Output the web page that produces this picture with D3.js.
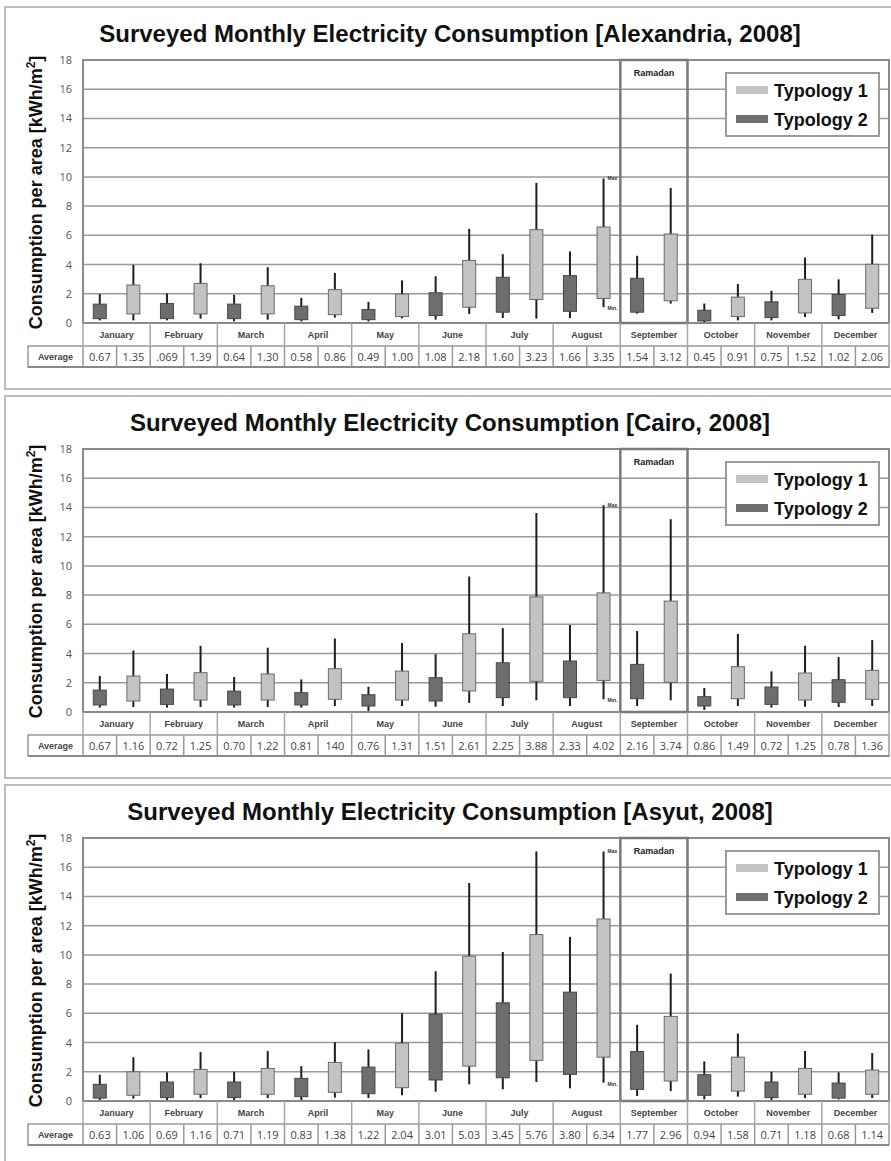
<!DOCTYPE html>
<html><head><meta charset="utf-8">
<script src="https://cdn.jsdelivr.net/npm/d3@7"></script>
<style>body{margin:0;background:#fff}svg{display:block}</style>
</head><body>
<script>
const months = ["January","February","March","April","May","June","July","August","September","October","November","December"];
const yTicks = [0,2,4,6,8,10,12,14,16,18];
const typologies = ["Typology 1","Typology 2"];
const cities = ["Alexandria","Cairo","Asyut"];
// [min, box low, box high, max]
const alexT2 = [[0.18,0.30,1.29,1.98],[0.18,0.30,1.33,2.02],[0.11,0.30,1.29,1.93],[0.11,0.23,1.15,1.72],[0.11,0.23,0.92,1.45],[0.23,0.51,2.07,3.20],[0.34,0.74,3.13,4.71],[0.34,0.80,3.24,4.90],[0.64,0.74,3.06,4.60],[0.05,0.14,0.87,1.33],[0.18,0.37,1.45,2.21],[0.25,0.51,1.95,2.99]];
const alexT1 = [[0.18,0.62,2.60,3.98],[0.30,0.62,2.71,4.09],[0.23,0.62,2.55,3.82],[0.37,0.57,2.28,3.43],[0.32,0.44,1.98,2.92],[0.62,1.08,4.28,6.44],[0.30,1.61,6.39,9.59],[1.08,1.68,6.57,9.89],[1.33,1.52,6.09,9.24],[0.18,0.44,1.77,2.67],[0.41,0.69,2.99,4.48],[0.69,1.01,4.02,6.05]];
const cairoT2 = [[0.30,0.48,1.50,2.46],[0.30,0.52,1.57,2.60],[0.30,0.48,1.43,2.39],[0.30,0.48,1.32,2.23],[0.07,0.41,1.18,1.73],[0.36,0.75,2.35,3.96],[0.41,0.98,3.37,5.74],[0.41,0.98,3.49,5.95],[0.41,0.91,3.26,5.54],[0.14,0.41,1.05,1.64],[0.30,0.52,1.71,2.78],[0.34,0.66,2.21,3.76]];
const cairoT1 = [[0.34,0.75,2.46,4.21],[0.34,0.82,2.69,4.53],[0.34,0.82,2.60,4.40],[0.41,0.87,2.96,5.03],[0.41,0.82,2.80,4.72],[0.62,1.44,5.35,9.27],[0.80,2.10,7.88,13.62],[0.87,2.16,8.15,14.15],[0.80,2.03,7.59,13.19],[0.41,0.91,3.10,5.35],[0.36,0.82,2.67,4.53],[0.41,0.87,2.85,4.92]];
const asyutT2 = [[0.07,0.20,1.14,1.80],[0.07,0.23,1.30,1.96],[0.07,0.23,1.30,2.00],[0.07,0.30,1.55,2.39],[0.20,0.50,2.32,3.53],[0.64,1.44,5.95,8.88],[0.80,1.59,6.72,10.20],[0.87,1.82,7.45,11.23],[0.34,0.80,3.39,5.22],[0.11,0.39,1.80,2.71],[0.07,0.23,1.30,2.00],[0.11,0.20,1.23,1.96]];
const asyutT1 = [[0.16,0.39,2.00,3.00],[0.20,0.46,2.16,3.35],[0.20,0.46,2.23,3.42],[0.23,0.59,2.64,4.03],[0.39,0.91,3.96,6.01],[1.14,2.39,9.91,14.92],[1.30,2.78,11.39,17.08],[1.25,3.00,12.46,17.08],[0.68,1.37,5.79,8.72],[0.30,0.68,3.00,4.62],[0.20,0.46,2.23,3.42],[0.20,0.46,2.12,3.28]];
const alexAvgT2 = ["0.67",".069","0.64","0.58","0.49","1.08","1.60","1.66","1.54","0.45","0.75","1.02"];
const alexAvgT1 = ["1.35","1.39","1.30","0.86","1.00","2.18","3.23","3.35","3.12","0.91","1.52","2.06"];
const cairoAvgT2 = ["0.67","0.72","0.70","0.81","0.76","1.51","2.25","2.33","2.16","0.86","0.72","0.78"];
const cairoAvgT1 = ["1.16","1.25","1.22","140","1.31","2.61","3.88","4.02","3.74","1.49","1.25","1.36"];
const asyutAvgT2 = ["0.63","0.69","0.71","0.83","1.22","3.01","3.45","3.80","1.77","0.94","0.71","0.68"];
const asyutAvgT1 = ["1.06","1.16","1.19","1.38","2.04","5.03","5.76","6.34","2.96","1.58","1.18","1.14"];

const panels = [
  {city: cities[0], t1: alexT1, t2: alexT2, a1: alexAvgT1, a2: alexAvgT2},
  {city: cities[1], t1: cairoT1, t2: cairoT2, a1: cairoAvgT1, a2: cairoAvgT2},
  {city: cities[2], t1: asyutT1, t2: asyutT2, a1: asyutAvgT1, a2: asyutAvgT2}
];

const W = 891, H = 1161;
const svg = d3.select("body").append("svg").attr("width", W).attr("height", H);
const panelTops = [7, 396, 785];
const PL = 83, PR = 889, PH = 263;
const FONT = "'Liberation Sans', Arial, sans-serif";
const NUMFONT = "'Open Sans', 'Liberation Sans', sans-serif";
const DARK = "#6e6e6e", LIGHT = "#c3c3c3";

const x = d3.scaleBand().domain(months).range([PL, PR]).padding(0);
const sub = d3.scalePoint().domain(["T2","T1"]).range([0, x.bandwidth()]).padding(0.5);
const BW = 13;

panels.forEach((p, i) => {
  const top = panelTops[i];
  const g = svg.append("g");
  const pTop = top + 53, pBot = pTop + PH;
  const y = d3.scaleLinear().domain([0, 18]).range([pBot, pTop]);

  g.append("rect").attr("x", 5).attr("y", top).attr("width", 900).attr("height", 382)
    .attr("fill", "none").attr("stroke", "#bdbdbd").attr("stroke-width", 2);

  g.append("text").attr("x", 450).attr("y", top + 35).attr("text-anchor", "middle")
    .attr("font-family", FONT).attr("font-weight", "bold").attr("font-size", 24).attr("fill", "#111")
    .text(`Surveyed Monthly Electricity Consumption [${p.city}, 2008]`);

  const yl = g.append("text").attr("transform", `translate(42,${(pTop + pBot) / 2 + 1}) rotate(-90)`)
    .attr("text-anchor", "middle").attr("font-family", FONT).attr("font-weight", "bold")
    .attr("font-size", 18).attr("fill", "#111");
  yl.append("tspan").text("Consumption per area [kWh/m");
  yl.append("tspan").attr("dy", -7).attr("font-size", 12).text("2");
  yl.append("tspan").attr("dy", 7).text("]");

  g.append("g").selectAll("line").data(yTicks.slice(1, -1)).join("line")
    .attr("x1", PL).attr("x2", PR).attr("y1", d => y(d)).attr("y2", d => y(d))
    .attr("stroke", "#9a9a9a").attr("stroke-width", 1.5);

  const ax = g.append("g").attr("transform", `translate(${PL - 11},0)`)
    .call(d3.axisLeft(y).tickValues(yTicks).tickSize(0).tickPadding(0));
  ax.select(".domain").remove();
  ax.selectAll("text").attr("font-family", NUMFONT).attr("font-size", 11).attr("fill", "#555");

  g.append("rect").attr("x", PL).attr("y", pTop).attr("width", PR - PL).attr("height", PH)
    .attr("fill", "none").attr("stroke", "#8a8a8a").attr("stroke-width", 2);

  g.append("rect").attr("x", x("September")).attr("y", pTop).attr("width", x.bandwidth()).attr("height", PH)
    .attr("fill", "none").attr("stroke", "#7a7a7a").attr("stroke-width", 2.5);
  g.append("text").attr("x", x("September") + x.bandwidth() / 2).attr("y", pTop + 15.5)
    .attr("text-anchor", "middle").attr("font-family", FONT).attr("font-weight", "bold")
    .attr("font-size", 9).attr("fill", "#222").text("Ramadan");

  const lg = g.append("g");
  lg.append("rect").attr("x", 726).attr("y", pTop + 13).attr("width", 153).attr("height", 63)
    .attr("fill", "#fff").attr("stroke", "#9a9a9a").attr("stroke-width", 2);
  const legCol = [LIGHT, DARK];
  typologies.forEach((t, k) => {
    lg.append("rect").attr("x", 736).attr("y", pTop + 26 + k * 29).attr("width", 32).attr("height", 8)
      .attr("fill", legCol[k]);
    lg.append("text").attr("x", 774).attr("y", pTop + 37 + k * 28.5).attr("font-family", FONT)
      .attr("font-weight", "bold").attr("font-size", 18).attr("fill", "#111").text(t);
  });

  const series = [{key: "T2", data: p.t2, fill: DARK, stroke: "#474747"}, {key: "T1", data: p.t1, fill: LIGHT, stroke: "#6a6a6a"}];
  series.forEach(s => {
    const sg = g.append("g");
    const cx = (d, j) => x(months[j]) + sub(s.key);
    sg.selectAll("line").data(s.data).join("line")
      .attr("x1", cx).attr("x2", cx).attr("y1", d => y(d[0])).attr("y2", d => y(d[3]))
      .attr("stroke", "#1e1e1e").attr("stroke-width", 2);
    sg.selectAll("rect").data(s.data).join("rect")
      .attr("x", (d, j) => cx(d, j) - BW / 2).attr("width", BW)
      .attr("y", d => y(d[2])).attr("height", d => y(d[1]) - y(d[2]))
      .attr("fill", s.fill).attr("stroke", s.stroke).attr("stroke-width", 1);
  });

  const aug = p.t1[7];
  const axX = x("August") + sub("T1") + 4;
  g.append("text").attr("x", axX).attr("y", y(aug[3]) + 2).attr("font-family", FONT).attr("font-weight", "bold")
    .attr("font-size", 5).attr("fill", "#333").text("Max");
  g.append("text").attr("x", axX).attr("y", y(aug[0]) + 3).attr("font-family", FONT).attr("font-weight", "bold")
    .attr("font-size", 5).attr("fill", "#333").text("Min.");

  const mr = g.append("g");
  mr.selectAll("line").data(months.concat(["_end"])).join("line")
    .attr("x1", (d, j) => j < 12 ? x(d) : PR).attr("x2", (d, j) => j < 12 ? x(d) : PR)
    .attr("y1", pBot).attr("y2", pBot + 22).attr("stroke", "#a8a8a8").attr("stroke-width", 1.5);
  mr.selectAll("text").data(months).join("text")
    .attr("x", d => x(d) + x.bandwidth() / 2).attr("y", pBot + 15).attr("text-anchor", "middle")
    .attr("font-family", FONT).attr("font-weight", "bold").attr("font-size", 9).attr("fill", "#444").text(d => d);

  const rTop = pBot + 23, rH = 21;
  const ar = g.append("g");
  ar.append("rect").attr("x", 28).attr("y", rTop).attr("width", PR - 28).attr("height", rH)
    .attr("fill", "none").attr("stroke", "#999").attr("stroke-width", 1.5);
  ar.append("line").attr("x1", 28).attr("x2", PR).attr("y1", rTop + rH).attr("y2", rTop + rH)
    .attr("stroke", "#888").attr("stroke-width", 2);
  ar.append("text").attr("x", 55.5).attr("y", rTop + 13.5).attr("text-anchor", "middle")
    .attr("font-family", FONT).attr("font-weight", "bold").attr("font-size", 9).attr("fill", "#444").text("Average");
  const cells = [];
  months.forEach((m, j) => {
    cells.push({x: x(m) + sub("T2"), v: p.a2[j], edge: x(m)});
    cells.push({x: x(m) + sub("T1"), v: p.a1[j], edge: x(m) + x.bandwidth() / 2});
  });
  ar.selectAll("line.sep").data(cells).join("line").attr("class", "sep")
    .attr("x1", d => d.edge).attr("x2", d => d.edge).attr("y1", rTop).attr("y2", rTop + rH)
    .attr("stroke", "#999").attr("stroke-width", 1.5);
  ar.selectAll("text.v").data(cells).join("text").attr("class", "v")
    .attr("x", d => d.x).attr("y", rTop + 15).attr("text-anchor", "middle")
    .attr("font-family", NUMFONT).attr("font-size", 11).attr("fill", "#444").text(d => d.v);
});
</script>
</body></html>
